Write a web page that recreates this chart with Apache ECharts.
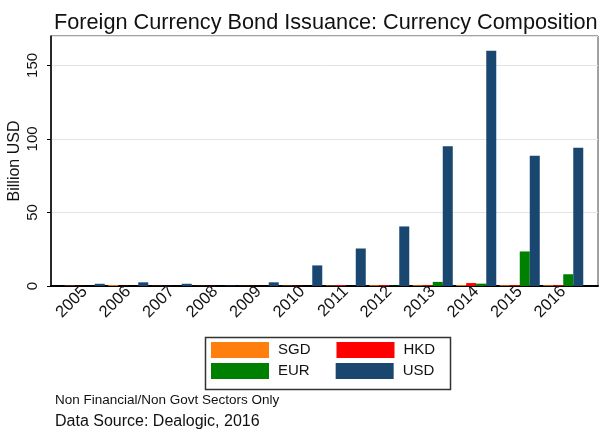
<!DOCTYPE html>
<html><head><meta charset="utf-8">
<script src="https://cdn.jsdelivr.net/npm/echarts@6/dist/echarts.min.js"></script>
<style>html,body{margin:0;padding:0;background:#fff}#c{width:601px;height:432px}</style>
</head><body><div id="c"></div>
<script>
const years = ['2005','2006','2007','2008','2009','2010','2011','2012','2013','2014','2015','2016'];
const sgd = [0.2, 0.6, 0.1, 0.1, 0.1, 0.2, 0.3, 0.5, 0.5, 0.6, 0.5, 0.5];
const hkd = [0.1, 0.1, 0.1, 0.1, 0.1, 0.2, 0.6, 0.6, 0.6, 2.0, 0.6, 0.6];
const eur = [0.0, 0.0, 0.0, 0.0, 0.0, 0.0, 0.0, 0.2, 2.8, 1.6, 23.5, 8.0];
const usd = [1.5, 2.5, 1.5, 0.3, 2.5, 14.0, 25.5, 40.5, 95.0, 160.0, 88.6, 94.0];
const yTicks = [0, 50, 100, 150];
const yMax = 170;
const seriesNames = ['SGD','HKD','EUR','USD'];
const seriesColors = ['#ff7f0e','#ff0000','#008000','#1a476f'];
const seriesData = [sgd, hkd, eur, usd];

const font = 'Arial, "Liberation Sans", sans-serif';
const chart = echarts.init(document.getElementById('c'), null, {renderer:'canvas'});
const legendText = {fontSize: 15, color: '#111', width: 46, padding: [0,0,0,4], fontFamily: font};
chart.setOption({
  animation: false,
  backgroundColor: '#fff',
  textStyle: {fontFamily: font},
  title: [
    {text: 'Foreign Currency Bond Issuance: Currency Composition', left: 49, top: 7,
     textStyle: {fontSize: 21.7, fontWeight: 'normal', color: '#111', fontFamily: font}},
    {text: 'Non Financial/Non Govt Sectors Only', left: 50, top: 388,
     textStyle: {fontSize: 13.5, fontWeight: 'normal', color: '#111', fontFamily: font}},
    {text: 'Data Source: Dealogic, 2016', left: 50, top: 409,
     textStyle: {fontSize: 16, fontWeight: 'normal', color: '#111', fontFamily: font}}
  ],
  legend: [
    {data: ['SGD','HKD'], left: 206, top: 337, itemWidth: 58, itemHeight: 16, itemGap: 26,
     icon: 'rect', textStyle: legendText},
    {data: ['EUR','USD'], left: 206, top: 358, itemWidth: 58, itemHeight: 16, itemGap: 26,
     icon: 'rect', textStyle: legendText}
  ],
  graphic: [
    {type: 'rect', left: 203, top: 335, shape: {width: 245, height: 52}, silent: true,
     style: {fill: 'none', stroke: '#333', lineWidth: 1.5}}
  ],
  grid: [
    {left: 63, width: 522, top: 36, height: 250, outerBoundsMode: 'none', containLabel: false},
    {left: 51, right: 3, top: 36, height: 250, outerBoundsMode: 'none', containLabel: false,
     show: true, borderColor: '#444', borderWidth: 1, backgroundColor: 'transparent'}
  ],
  xAxis: [
    {type: 'category', gridIndex: 0, data: years, axisLine: {show: false}, axisTick: {show: false},
     axisLabel: {rotate: 45, fontSize: 16.5, color: '#111', margin: 3, interval: 0, fontFamily: font}},
    {type: 'value', gridIndex: 1, min: 0, max: 1, axisLabel: {show: false}, axisTick: {show: false},
     splitLine: {show: false}, axisLine: {show: true, lineStyle: {color: '#000', width: 2}}}
  ],
  yAxis: [
    {type: 'value', gridIndex: 0, min: 0, max: yMax, show: false, splitLine: {show: false}},
    {type: 'value', gridIndex: 1, min: 0, max: yMax, interval: 50,
     name: 'Billion USD', nameLocation: 'middle', nameGap: 28, nameRotate: 90, nameMoveOverlap: false,
     nameTextStyle: {fontSize: 16, color: '#111', fontFamily: font},
     axisLine: {show: true, lineStyle: {color: '#000', width: 1.5}},
     axisTick: {show: true, length: 4, lineStyle: {color: '#000'}},
     axisLabel: {rotate: 90, fontSize: 15, color: '#111', margin: 11, showMaxLabel: false, fontFamily: font,
       formatter: v => yTicks.indexOf(v) >= 0 ? String(v) : ''},
     splitLine: {show: true, lineStyle: {color: '#e3e3e3', width: 1}}}
  ],
  series: seriesNames.map((n, i) => ({
    name: n, type: 'bar', xAxisIndex: 0, yAxisIndex: 0, data: seriesData[i],
    barGap: '0%', barCategoryGap: '8%',
    itemStyle: {color: seriesColors[i]}
  }))
});
</script></body></html>
